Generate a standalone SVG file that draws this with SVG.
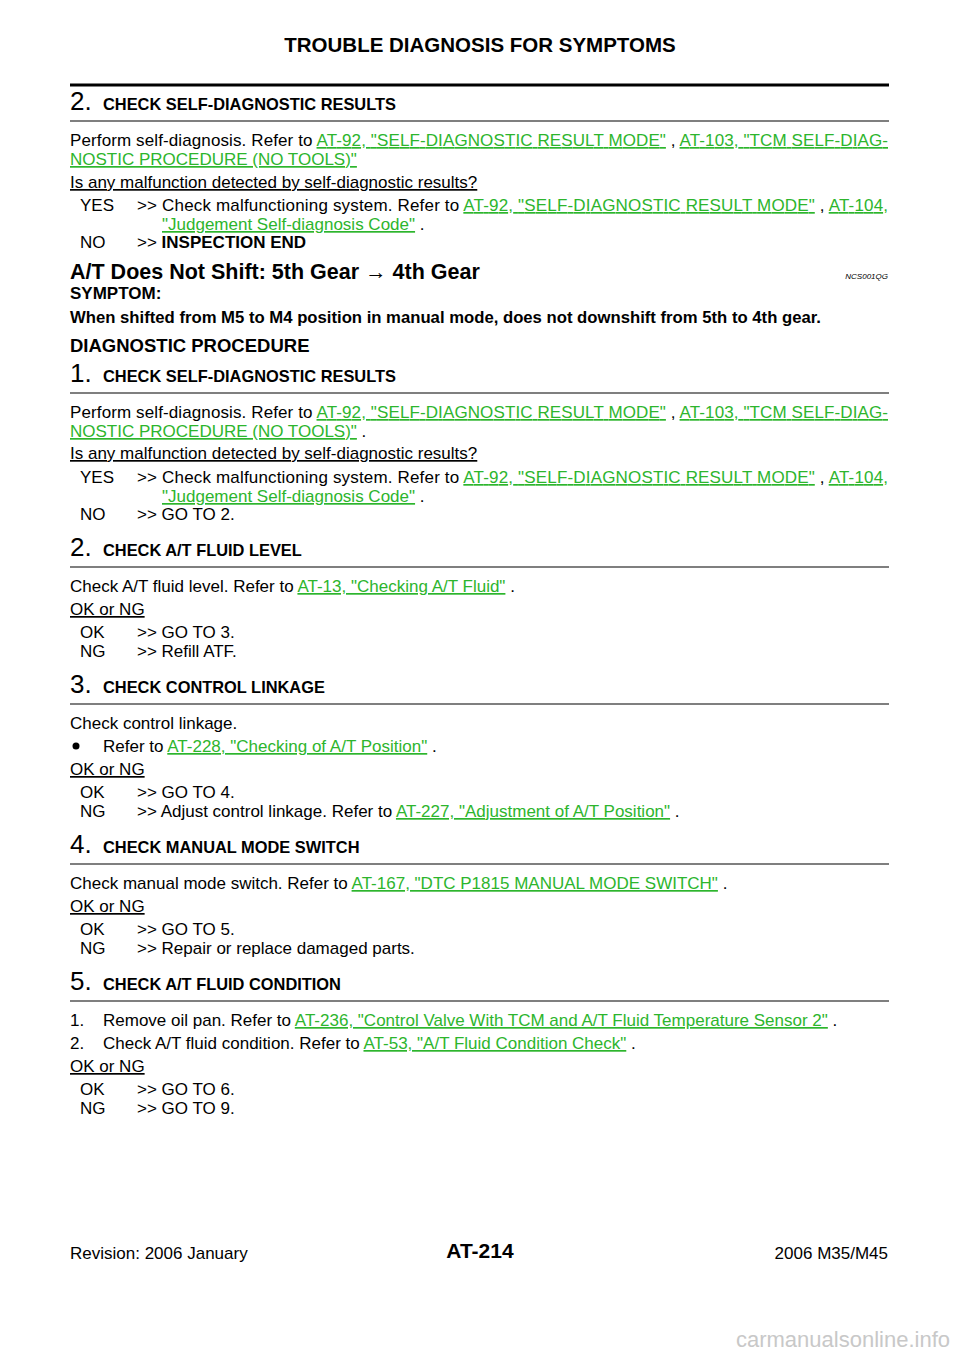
<svg xmlns="http://www.w3.org/2000/svg" width="960" height="1358" viewBox="0 0 960 1358">
<style>
text{font-family:"Liberation Sans",Arial,sans-serif;fill:#000}
.b{font-size:17px}
.h{font-size:16.4px;font-weight:bold}
.n{font-size:26px}
.l{fill:#2db52d}
.u{text-decoration:underline}
.bold{font-weight:bold}
</style>
<rect width="960" height="1358" fill="#fff"/>
<text x="480" y="52" text-anchor="middle" style="font-size:20.5px;font-weight:bold">TROUBLE DIAGNOSIS FOR SYMPTOMS</text>
<line x1="70" y1="85" x2="889" y2="85" stroke="#000" stroke-width="3"/>

<g id="s2a">
<text x="70" y="110" class="n">2.</text><text x="103" y="110" class="h">CHECK SELF-DIAGNOSTIC RESULTS</text>
<line x1="70" y1="121" x2="889" y2="121" stroke="#000" stroke-width="1.2"/>
<text x="70" y="146" class="b" textLength="818" lengthAdjust="spacing">Perform self-diagnosis. Refer to <tspan class="l u">AT-92, "SELF-DIAGNOSTIC RESULT MODE"</tspan> , <tspan class="l u">AT-103, "TCM SELF-DIAG-</tspan></text>
<text x="70" y="165" class="b l u">NOSTIC PROCEDURE (NO TOOLS)"</text>
<text x="70" y="188" class="b u">Is any malfunction detected by self-diagnostic results?</text>
<text x="80" y="211" class="b">YES</text><text x="137" y="211" class="b" textLength="751" lengthAdjust="spacing">&gt;&gt; Check malfunctioning system. Refer to <tspan class="l u">AT-92, "SELF-DIAGNOSTIC RESULT MODE"</tspan> , <tspan class="l u">AT-104,</tspan></text>
<text x="162" y="230" class="b"><tspan class="l u">"Judgement Self-diagnosis Code"</tspan> .</text>
<text x="80" y="248" class="b">NO</text><text x="137" y="248" class="b">&gt;&gt; <tspan class="bold">INSPECTION END</tspan></text>
</g>

<g id="title2">
<text x="70" y="279" style="font-size:21.5px;font-weight:bold">A/T Does Not Shift: 5th Gear → 4th Gear</text>
<text x="888" y="279" text-anchor="end" style="font-size:8px;font-style:italic">NCS001QG</text>
<text x="70" y="299" style="font-size:17px;font-weight:bold">SYMPTOM:</text>
<text x="70" y="323" style="font-size:16.7px;font-weight:bold">When shifted from M5 to M4 position in manual mode, does not downshift from 5th to 4th gear.</text>
<text x="70" y="352" style="font-size:18.5px;font-weight:bold">DIAGNOSTIC PROCEDURE</text>
</g>

<g id="s1">
<text x="70" y="382" class="n">1.</text><text x="103" y="382" class="h">CHECK SELF-DIAGNOSTIC RESULTS</text>
<line x1="70" y1="393" x2="889" y2="393" stroke="#000" stroke-width="1.2"/>
<text x="70" y="418" class="b" textLength="818" lengthAdjust="spacing">Perform self-diagnosis. Refer to <tspan class="l u">AT-92, "SELF-DIAGNOSTIC RESULT MODE"</tspan> , <tspan class="l u">AT-103, "TCM SELF-DIAG-</tspan></text>
<text x="70" y="437" class="b"><tspan class="l u">NOSTIC PROCEDURE (NO TOOLS)"</tspan> .</text>
<text x="70" y="459" class="b u">Is any malfunction detected by self-diagnostic results?</text>
<text x="80" y="483" class="b">YES</text><text x="137" y="483" class="b" textLength="751" lengthAdjust="spacing">&gt;&gt; Check malfunctioning system. Refer to <tspan class="l u">AT-92, "SELF-DIAGNOSTIC RESULT MODE"</tspan> , <tspan class="l u">AT-104,</tspan></text>
<text x="162" y="502" class="b"><tspan class="l u">"Judgement Self-diagnosis Code"</tspan> .</text>
<text x="80" y="520" class="b">NO</text><text x="137" y="520" class="b">&gt;&gt; GO TO 2.</text>
</g>

<g id="s2">
<text x="70" y="556" class="n">2.</text><text x="103" y="556" class="h">CHECK A/T FLUID LEVEL</text>
<line x1="70" y1="567" x2="889" y2="567" stroke="#000" stroke-width="1.2"/>
<text x="70" y="592" class="b">Check A/T fluid level. Refer to <tspan class="l u">AT-13, "Checking A/T Fluid"</tspan> .</text>
<text x="70" y="615" class="b u">OK or NG</text>
<text x="80" y="638" class="b">OK</text><text x="137" y="638" class="b">&gt;&gt; GO TO 3.</text>
<text x="80" y="657" class="b">NG</text><text x="137" y="657" class="b">&gt;&gt; Refill ATF.</text>
</g>

<g id="s3">
<text x="70" y="693" class="n">3.</text><text x="103" y="693" class="h">CHECK CONTROL LINKAGE</text>
<line x1="70" y1="704" x2="889" y2="704" stroke="#000" stroke-width="1.2"/>
<text x="70" y="729" class="b">Check control linkage.</text>
<circle cx="76" cy="746" r="3.5" fill="#000"/>
<text x="103" y="752" class="b">Refer to <tspan class="l u">AT-228, "Checking of A/T Position"</tspan> .</text>
<text x="70" y="775" class="b u">OK or NG</text>
<text x="80" y="798" class="b">OK</text><text x="137" y="798" class="b">&gt;&gt; GO TO 4.</text>
<text x="80" y="817" class="b">NG</text><text x="137" y="817" class="b">&gt;&gt; Adjust control linkage. Refer to <tspan class="l u">AT-227, "Adjustment of A/T Position"</tspan> .</text>
</g>

<g id="s4">
<text x="70" y="853" class="n">4.</text><text x="103" y="853" class="h">CHECK MANUAL MODE SWITCH</text>
<line x1="70" y1="864" x2="889" y2="864" stroke="#000" stroke-width="1.2"/>
<text x="70" y="889" class="b">Check manual mode switch. Refer to <tspan class="l u">AT-167, "DTC P1815 MANUAL MODE SWITCH"</tspan> .</text>
<text x="70" y="912" class="b u">OK or NG</text>
<text x="80" y="935" class="b">OK</text><text x="137" y="935" class="b">&gt;&gt; GO TO 5.</text>
<text x="80" y="954" class="b">NG</text><text x="137" y="954" class="b">&gt;&gt; Repair or replace damaged parts.</text>
</g>

<g id="s5">
<text x="70" y="990" class="n">5.</text><text x="103" y="990" class="h">CHECK A/T FLUID CONDITION</text>
<line x1="70" y1="1001" x2="889" y2="1001" stroke="#000" stroke-width="1.2"/>
<text x="70" y="1026" class="b">1.</text><text x="103" y="1026" class="b">Remove oil pan. Refer to <tspan class="l u">AT-236, "Control Valve With TCM and A/T Fluid Temperature Sensor 2"</tspan> .</text>
<text x="70" y="1049" class="b">2.</text><text x="103" y="1049" class="b">Check A/T fluid condition. Refer to <tspan class="l u">AT-53, "A/T Fluid Condition Check"</tspan> .</text>
<text x="70" y="1072" class="b u">OK or NG</text>
<text x="80" y="1095" class="b">OK</text><text x="137" y="1095" class="b">&gt;&gt; GO TO 6.</text>
<text x="80" y="1114" class="b">NG</text><text x="137" y="1114" class="b">&gt;&gt; GO TO 9.</text>
</g>

<g id="footer">
<text x="70" y="1259" class="b">Revision: 2006 January</text>
<text x="480" y="1258" text-anchor="middle" style="font-size:21px;font-weight:bold">AT-214</text>
<text x="888" y="1259" text-anchor="end" class="b">2006 M35/M45</text>
<text x="950" y="1347" text-anchor="end" style="font-size:22px;fill:#c8c8c8">carmanualsonline.info</text>
</g>
</svg>
